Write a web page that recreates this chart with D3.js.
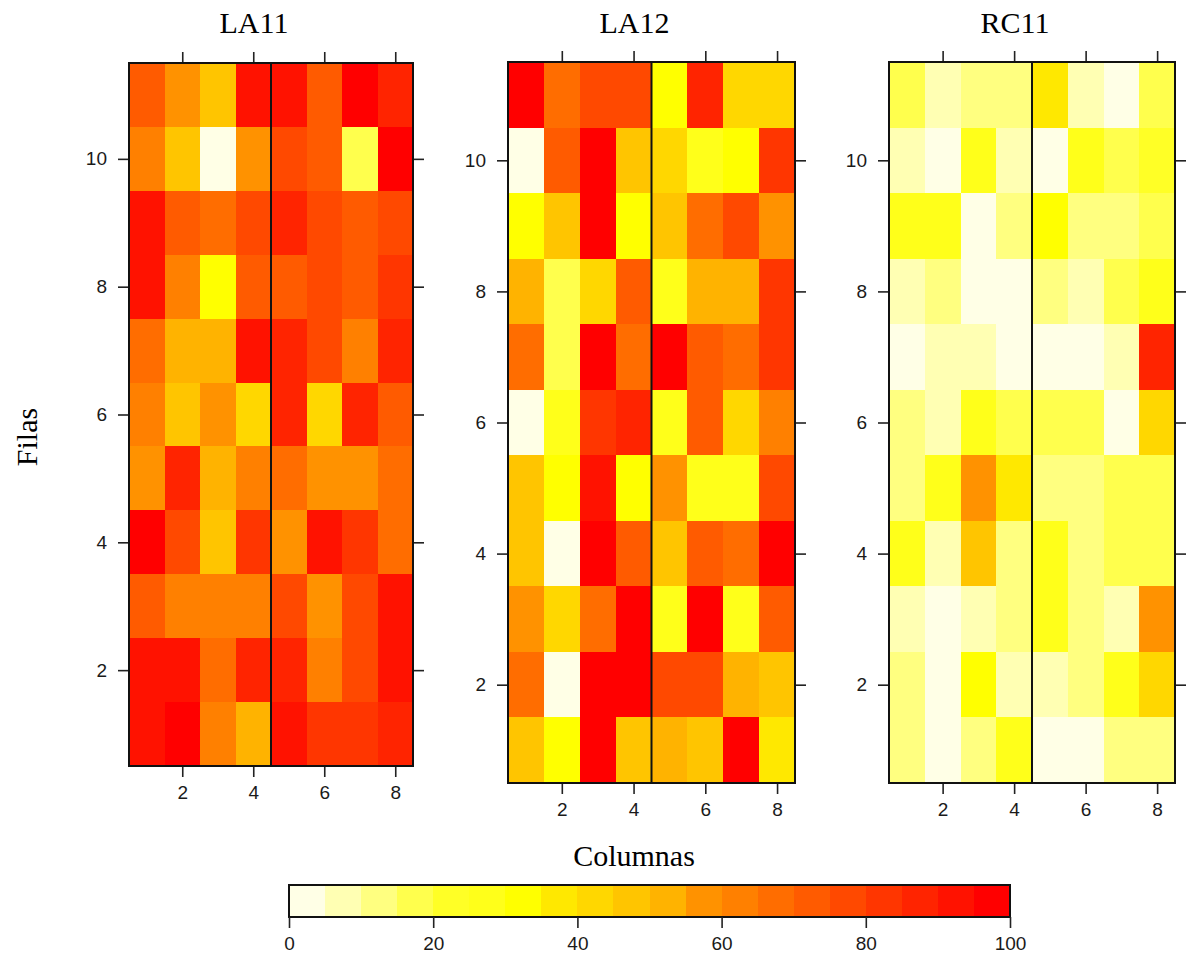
<!DOCTYPE html>
<html>
<head>
<meta charset="utf-8">
<script src="https://cdn.jsdelivr.net/npm/d3@7/dist/d3.min.js"></script>
<style>
  body { margin: 0; background: #fff; }
  svg { display: block; }
  .tick text { font-family: "Liberation Sans", Arial, sans-serif; font-size: 19px; fill: #1a1a1a; }
  .tick line { stroke: #222; stroke-width: 1.6; }
  .title { font-family: "Liberation Serif", "Times New Roman", serif; font-size: 30px; fill: #000; }
</style>
</head>
<body>
<svg id="chart" width="1193" height="960"></svg>
<script>
// Columns (x) and rows (y) of every plot; value tables list rows from 11 (top) down to 1.
const columnas = [1, 2, 3, 4, 5, 6, 7, 8];
const filas = [11, 10, 9, 8, 7, 6, 5, 4, 3, 2, 1];

const la11 = [
  [72, 57, 47, 92, 93, 73, 98, 87],
  [62, 48,  2, 58, 77, 71, 17, 97],
  [91, 73, 67, 78, 88, 77, 72, 76],
  [92, 63, 32, 71, 73, 78, 72, 82],
  [68, 52, 53, 91, 87, 76, 63, 88],
  [63, 47, 56, 43, 88, 42, 86, 72],
  [58, 87, 52, 62, 67, 57, 56, 68],
  [97, 77, 48, 82, 57, 93, 83, 67],
  [73, 62, 63, 61, 77, 58, 76, 92],
  [92, 91, 67, 87, 88, 63, 78, 93],
  [91, 98, 62, 53, 92, 82, 81, 88]
];

const la12 = [
  [97, 68, 77, 78, 32, 87, 43, 42],
  [ 2, 72, 98, 47, 42, 27, 33, 82],
  [32, 48, 97, 31, 47, 67, 77, 57],
  [52, 18, 43, 72, 28, 53, 52, 83],
  [67, 17, 98, 68, 97, 73, 66, 82],
  [ 3, 27, 81, 87, 28, 72, 42, 62],
  [48, 31, 92, 33, 57, 27, 28, 77],
  [47,  2, 98, 73, 48, 71, 67, 97],
  [58, 43, 68, 98, 27, 97, 26, 72],
  [67,  3, 96, 97, 77, 78, 52, 47],
  [46, 32, 98, 48, 53, 47, 97, 38]
];

const rc11 = [
  [17,  8, 12, 13, 38,  7,  3, 18],
  [ 7,  2, 27,  8,  3, 28, 17, 22],
  [27, 28,  4, 12, 32, 13, 12, 18],
  [ 8, 12,  3,  2, 13,  7, 16, 26],
  [ 3,  7,  8,  2,  3,  4,  8, 87],
  [12,  8, 27, 17, 18, 17,  2, 42],
  [13, 26, 57, 38, 12, 13, 17, 18],
  [27,  7, 47, 12, 28, 13, 18, 17],
  [ 8,  3,  7, 13, 27, 12,  8, 58],
  [12,  2, 32,  8,  7, 12, 26, 43],
  [13,  3, 12, 27,  2,  4, 12, 13]
];

const panelNames = ["LA11", "LA12", "RC11"];
const xTicks = [2, 4, 6, 8];
const yTicks = [2, 4, 6, 8, 10];
const splitAt = 4.5; // divider between columns 4 and 5

// Colour key: 20 bands of width 5 from 0 to 100
const breaks = [0, 5, 10, 15, 20, 25, 30, 35, 40, 45, 50, 55, 60, 65, 70, 75, 80, 85, 90, 95, 100];
const legendTicks = [0, 20, 40, 60, 80, 100];
const bandColors = [
  "#FFFFE6", "#FFFFB3", "#FFFF80", "#FFFF4D", "#FFFF26",
  "#FFFF1A", "#FFFF00", "#FFE800", "#FFD700", "#FFC500",
  "#FFB300", "#FF9200", "#FF8000", "#FF6D00", "#FF5B00",
  "#FF4900", "#FF3600", "#FF2400", "#FF1200", "#FF0000"
];

const color = d3.scaleThreshold()
  .domain(breaks.slice(1, -1))
  .range(bandColors);

const svg = d3.select("#chart");

const panels = [
  { name: panelNames[0], values: la11, left: 129, right: 413, top: 63, bottom: 766 },
  { name: panelNames[1], values: la12, left: 508, right: 795, top: 62, bottom: 783 },
  { name: panelNames[2], values: rc11, left: 889, right: 1175, top: 62, bottom: 783 }
];

const tickLen = 11;

panels.forEach(p => {
  const x = d3.scaleLinear().domain([0.5, 8.5]).range([p.left, p.right]);
  const y = d3.scaleLinear().domain([0.5, 11.5]).range([p.bottom, p.top]);
  const g = svg.append("g");

  const cells = [];
  filas.forEach((f, i) => columnas.forEach((c, j) => cells.push({ fila: f, col: c, v: p.values[i][j] })));

  g.append("g").selectAll("rect")
    .data(cells)
    .join("rect")
    .attr("x", d => x(d.col - 0.5))
    .attr("y", d => y(d.fila + 0.5))
    .attr("width", d => x(d.col + 0.5) - x(d.col - 0.5) + 0.5)
    .attr("height", d => y(d.fila - 0.5) - y(d.fila + 0.5) + 0.5)
    .attr("fill", d => color(d.v))
    .attr("shape-rendering", "crispEdges");

  // divider line
  g.append("line")
    .attr("x1", x(splitAt)).attr("x2", x(splitAt))
    .attr("y1", y(11.5)).attr("y2", y(0.5))
    .attr("stroke", "#111").attr("stroke-width", 2);

  // axes on all four sides, labels only bottom and left
  const bottomAxis = d3.axisBottom(x).tickValues(xTicks).tickSize(tickLen).tickSizeOuter(0).tickPadding(9);
  const topAxis = d3.axisTop(x).tickValues(xTicks).tickSize(tickLen).tickSizeOuter(0).tickFormat("");
  const leftAxis = d3.axisLeft(y).tickValues(yTicks).tickSize(tickLen).tickSizeOuter(0).tickPadding(11);
  const rightAxis = d3.axisRight(y).tickValues(yTicks).tickSize(tickLen).tickSizeOuter(0).tickFormat("");

  [[bottomAxis, `translate(0,${p.bottom})`], [topAxis, `translate(0,${p.top})`],
   [leftAxis, `translate(${p.left},0)`], [rightAxis, `translate(${p.right},0)`]].forEach(([ax, tr]) => {
    const a = g.append("g").attr("transform", tr).call(ax);
    a.select(".domain").remove();
  });

  // frame
  g.append("rect")
    .attr("x", p.left).attr("y", p.top)
    .attr("width", p.right - p.left).attr("height", p.bottom - p.top)
    .attr("fill", "none").attr("stroke", "#111").attr("stroke-width", 2);

  // panel title
  g.append("text").attr("class", "title")
    .attr("x", (p.left + p.right) / 2 - 17).attr("y", 33)
    .attr("text-anchor", "middle")
    .text(p.name);
});

// axis titles
svg.append("text").attr("class", "title")
  .attr("x", 634).attr("y", 866).attr("text-anchor", "middle")
  .text("Columnas");
svg.append("text").attr("class", "title")
  .attr("transform", "translate(37,437) rotate(-90)").attr("text-anchor", "middle")
  .text("Filas");

// colour key
const kx = d3.scaleLinear().domain([breaks[0], breaks[breaks.length - 1]]).range([289, 1010]);
const kTop = 885, kBottom = 917;
const key = svg.append("g");
key.selectAll("rect.band")
  .data(d3.pairs(breaks))
  .join("rect")
  .attr("class", "band")
  .attr("x", d => kx(d[0]))
  .attr("y", kTop)
  .attr("width", d => kx(d[1]) - kx(d[0]) + 0.5)
  .attr("height", kBottom - kTop)
  .attr("fill", d => color((d[0] + d[1]) / 2))
  .attr("shape-rendering", "crispEdges");
key.append("rect")
  .attr("x", kx(0)).attr("y", kTop)
  .attr("width", kx(100) - kx(0)).attr("height", kBottom - kTop)
  .attr("fill", "none").attr("stroke", "#111").attr("stroke-width", 2);
key.append("g")
  .attr("transform", `translate(0,${kBottom})`)
  .call(d3.axisBottom(kx).tickValues(legendTicks).tickSize(tickLen).tickSizeOuter(0).tickPadding(9))
  .select(".domain").remove();
</script>
</body>
</html>
